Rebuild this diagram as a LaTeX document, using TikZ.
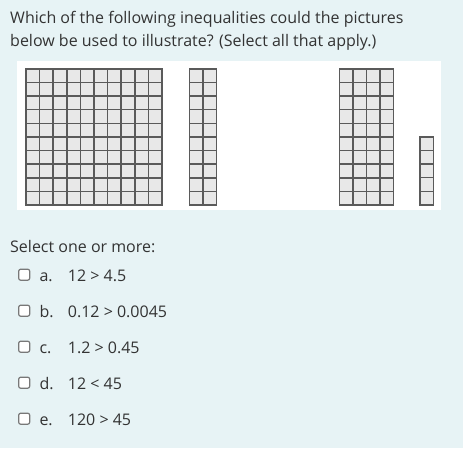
\documentclass[tikz,border=0pt]{standalone}
\usepackage{fontspec}
\setmainfont{Open Sans}
\usepackage{tikz}

\definecolor{pagebg}{RGB}{231,243,245}
\definecolor{txt}{RGB}{51,51,51}
\definecolor{cellfill}{RGB}{232,232,232}
\definecolor{cellline}{RGB}{90,90,90}
\definecolor{boxline}{RGB}{120,120,120}

\tikzset{
	every node/.style={inner sep=0pt, text=txt, font=\fontsize{16}{19}\selectfont},
	cell/.style={fill=cellfill, draw=cellline, line width=1.6pt},
	tick/.style={draw=boxline, fill=white, line width=1.2pt, rounded corners=2pt, minimum size=11pt},
}

\begin{document}
\begin{tikzpicture}[x=1pt,y=-1pt]
	\useasboundingbox (0,0) rectangle (463,448);
	\fill[pagebg] (0,0) rectangle (463,448);
	\node[anchor=base west] (q1) at (10,23.3) {Which of the following inequalities could the pictures};
	\node[anchor=base west] (q2) at (10,46.7) {below be used to illustrate? (Select all that apply.)};
	\fill[white] (17,61) rectangle (441,210);
	\foreach \x/\w/\n/\y/\m in {26/13.6/10/68.7/10, 189.3/13.5/2/68.7/10, 339.3/13.5/4/68.7/10, 420/13.3/1/136.7/5}
	{
	\foreach \i in {1,...,\n}
	\foreach \j in {1,...,\m}
	\draw[cell] ({\x+(\i-1)*\w},{\y+(\j-1)*13.65}) rectangle ++(\w,13.65);
	}
	\node[anchor=base west] (sel) at (10,252.7) {Select one or more:};
	\foreach \l/\t [count=\i] in {a/{12 > 4.5}, b/{0.12 > 0.0045}, c/{1.2 > 0.45}, d/{12 < 45}, e/{120 > 45}}
	{
	\node[tick] (box\l) at (24.2,{281-6.3+(\i-1)*36}) {};
	\node[anchor=base west] (lab\l) at (39.3,{281+(\i-1)*36}) {\l.};
	\node[anchor=base west] (opt\l) at (67.7,{281+(\i-1)*36}) {\t};
	}
\end{tikzpicture}
\end{document}
